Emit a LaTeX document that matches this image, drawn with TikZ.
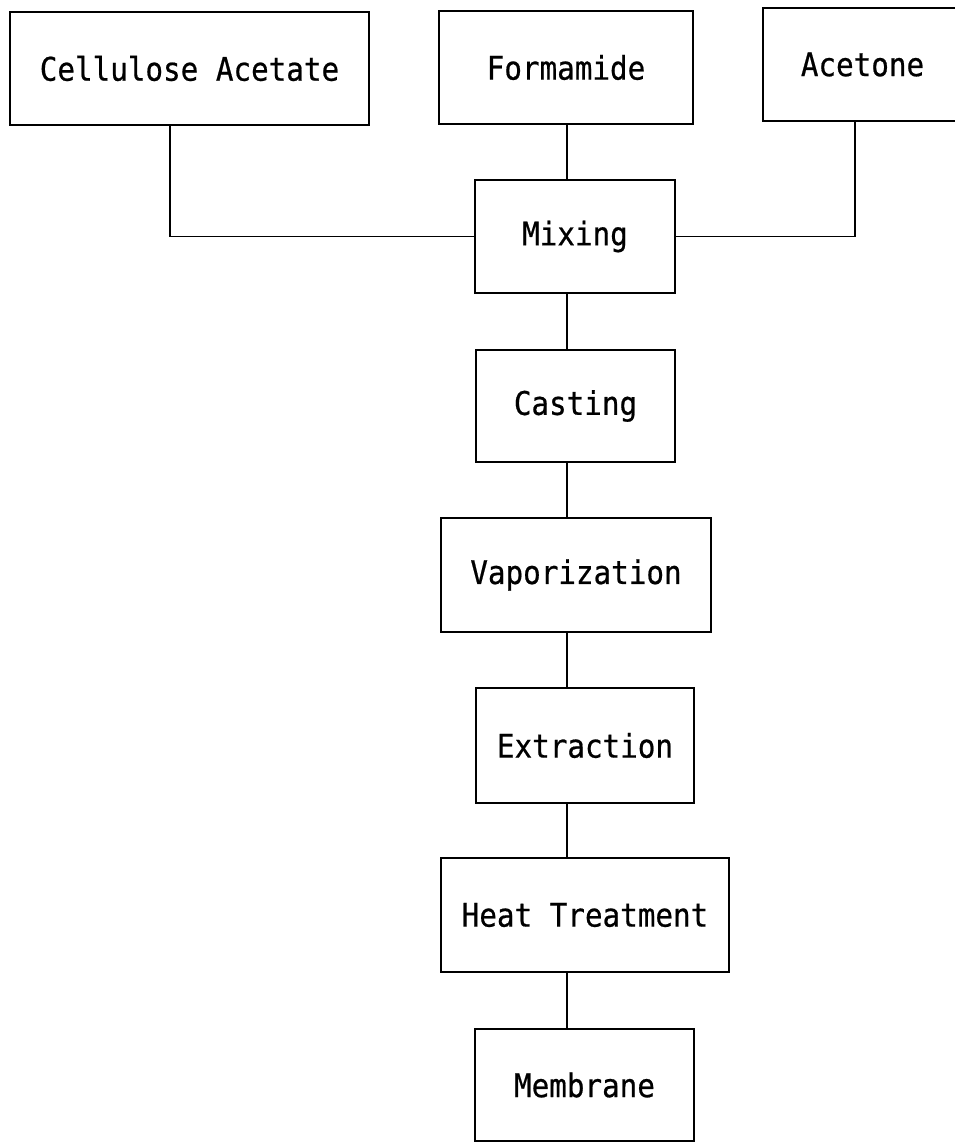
\documentclass[tikz,border=0pt]{standalone}
\usepackage{fontspec}
\newfontfamily\boxfont[FakeStretch=0.9,FakeBold=0.6]{DejaVu Sans Mono}
\begin{document}
\begin{tikzpicture}[x=1pt,y=-1pt,
  stepbox/.style={draw=black,line width=1.8pt,inner sep=0pt,
    font=\boxfont\fontsize{32.5}{38}\selectfont,text=black},
  link/.style={draw=black,line width=1.3pt}]
\useasboundingbox (0,0) rectangle (954,1142);
\fill[white] (0,0) rectangle (954,1142);
% top row
\node[stepbox,minimum width=359pt,minimum height=113pt] (ca) at (189.5,68.5) {Cellulose Acetate};
\node[stepbox,minimum width=254pt,minimum height=113pt] (fa) at (566,67.5) {Formamide};
\node[stepbox,minimum width=199pt,minimum height=113pt] (ac) at (862.5,64.5) {Acetone};
% main chain
\node[stepbox,minimum width=200pt,minimum height=113pt] (mix) at (575,236.5) {Mixing};
\node[stepbox,minimum width=199pt,minimum height=112pt] (cast) at (575.5,406) {Casting};
\node[stepbox,minimum width=270pt,minimum height=114pt] (vap) at (576,575) {Vaporization};
\node[stepbox,minimum width=218pt,minimum height=115pt] (ext) at (585,745.5) {Extraction};
\node[stepbox,minimum width=288pt,minimum height=114pt] (heat) at (585,915) {Heat Treatment};
\node[stepbox,minimum width=219pt,minimum height=112pt] (mem) at (584.5,1085) {Membrane};
% connector guides
\coordinate (sp) at (567,0);
\coordinate (cax) at (170,0);
\coordinate (acx) at (855,0);
% connectors
\draw[link] (ca.south -| cax) |- (mix.west);
\draw[link] (ac.south -| acx) |- (mix.east);
\draw[link] (fa.south -| sp) -- (mix.north -| sp);
\draw[link] (mix.south -| sp) -- (cast.north -| sp);
\draw[link] (cast.south -| sp) -- (vap.north -| sp);
\draw[link] (vap.south -| sp) -- (ext.north -| sp);
\draw[link] (ext.south -| sp) -- (heat.north -| sp);
\draw[link] (heat.south -| sp) -- (mem.north -| sp);
\end{tikzpicture}
\end{document}
